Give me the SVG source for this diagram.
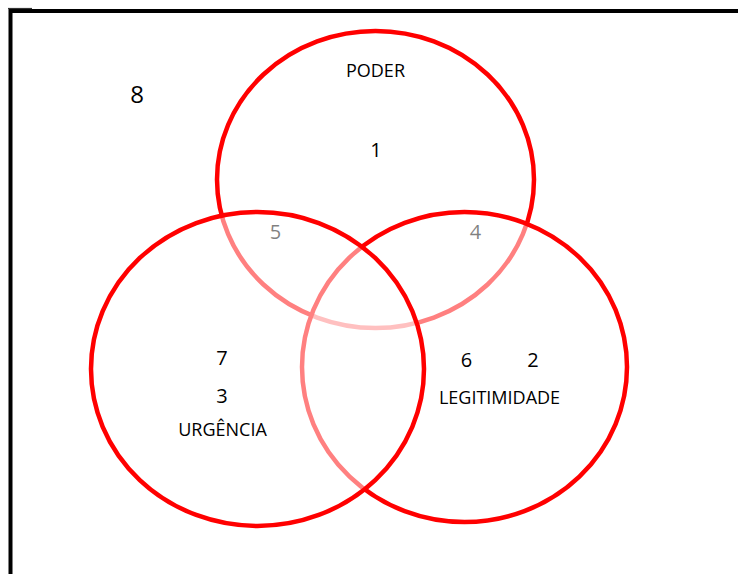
<svg xmlns="http://www.w3.org/2000/svg" width="738" height="574" viewBox="0 0 738 574">
  <style>
    .ring { fill: #ffffff; fill-opacity: 0.5; stroke: #ff0000; stroke-width: 4.5; }
    .lbl { font-family: "Open Sans", "Liberation Sans", sans-serif; font-size: 18px; fill: #000000; text-anchor: middle; }
    .num { font-family: "Open Sans", "Liberation Sans", sans-serif; font-size: 20px; fill: #000000; text-anchor: middle; }
    .frame { stroke: #000000; stroke-width: 4; fill: none; }
  </style>
  <rect x="0" y="0" width="738" height="574" fill="#ffffff"/>
  <g id="frame">
    <line class="frame" x1="10" y1="11" x2="738" y2="11"/>
    <line class="frame" x1="10.5" y1="9" x2="10.5" y2="574"/>
    <line x1="8" y1="8.5" x2="32" y2="8.5" stroke="#333333" stroke-width="1.2"/>
  </g>
  <g id="outside">
    <text class="num" x="137" y="103" style="font-size:24px">8</text>
  </g>
  <g id="poder">
    <ellipse class="ring" cx="375.5" cy="179.5" rx="158.5" ry="148.5"/>
    <text class="lbl" x="375.5" y="77">PODER</text>
    <text class="num" x="376" y="157">1</text>
    <text class="num" x="275.5" y="239">5</text>
    <text class="num" x="475.5" y="239">4</text>
  </g>
  <g id="legitimidade">
    <ellipse class="ring" cx="464.5" cy="367" rx="162.5" ry="155"/>
    <text class="num" x="466.5" y="367">6</text>
    <text class="num" x="533" y="367">2</text>
    <text class="lbl" x="499.5" y="404">LEGITIMIDADE</text>
  </g>
  <g id="urgencia">
    <ellipse class="ring" cx="257.5" cy="369" rx="166.5" ry="157"/>
    <text class="num" x="222" y="365">7</text>
    <text class="num" x="222" y="403">3</text>
    <text class="lbl" x="222.5" y="436">URGÊNCIA</text>
  </g>
  <g id="connectors"/>
</svg>
